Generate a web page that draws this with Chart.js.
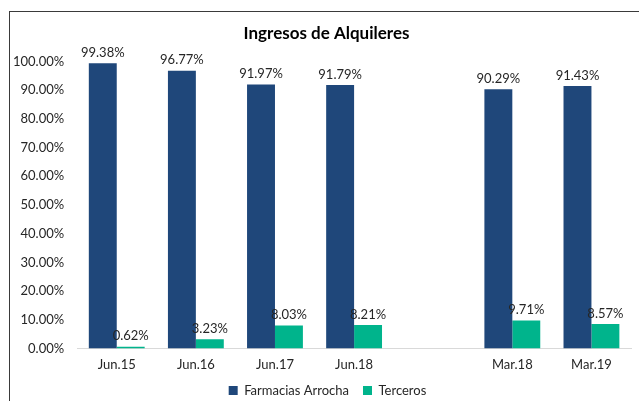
<!DOCTYPE html>
<html lang="es">
<head>
  <meta charset="UTF-8">
  <title>Ingresos de Alquileres</title>
  <script src="https://cdn.jsdelivr.net/npm/chart.js@4.4.1/dist/chart.umd.min.js"></script>
  <style>
    *, *::before, *::after { box-sizing: border-box; margin: 0; padding: 0; }
    html, body { width: 639px; height: 401px; overflow: hidden; background: #fff; }
    .frame {
      position: absolute; left: 9px; top: 11px; width: 700px; height: 500px;
      border-left: 1px solid #3a3a3a; border-top: 1px solid #3a3a3a;
    }
    .wrap { position: absolute; left: 0; top: 0; width: 639px; height: 407px; }
  </style>
</head>
<body>
  <div class="frame"></div>
  <div class="wrap"><canvas id="chart"></canvas></div>
  <script>
    // categories (blank slot between Jun.18 and Mar.18)
    const categories = ['Jun.15', 'Jun.16', 'Jun.17', 'Jun.18', '', 'Mar.18', 'Mar.19'];
    const farmacias = [99.38, 96.77, 91.97, 91.79, null, 90.29, 91.43];
    const terceros = [0.62, 3.23, 8.03, 8.21, null, 9.71, 8.57];
    const yTicks = [0, 10, 20, 30, 40, 50, 60, 70, 80, 90, 100];

    const FONT = "Lato, 'Open Sans', sans-serif";
    Chart.defaults.font.family = FONT;
    Chart.defaults.font.size = 13;
    Chart.defaults.color = '#262626';

    // value labels above each bar
    const barLabels = {
      id: 'barLabels',
      afterDatasetsDraw(chart) {
        const ctx = chart.ctx;
        ctx.save();
        ctx.font = '13px ' + FONT;
        ctx.fillStyle = '#262626';
        ctx.textAlign = 'center';
        ctx.textBaseline = 'bottom';
        chart.data.datasets.forEach((ds, i) => {
          chart.getDatasetMeta(i).data.forEach((bar, j) => {
            const v = ds.data[j];
            if (v == null) return;
            ctx.fillText(v.toFixed(2) + '%', bar.x, bar.y - 4);
          });
        });
        ctx.restore();
      }
    };

    // title and legend in the original sit a bit right of the canvas centre
    const boxShift = {
      id: 'boxShift',
      afterLayout(chart) {
        chart.legend.left += 12;
        chart.legend.right += 12;
        chart.titleBlock.left += 11;
        chart.titleBlock.right += 11;
      }
    };

    new Chart(document.getElementById('chart'), {
      type: 'bar',
      data: {
        labels: categories,
        datasets: [
          { label: 'Farmacias Arrocha', data: farmacias, backgroundColor: '#1F477A' },
          { label: 'Terceros', data: terceros, backgroundColor: '#00B48C' },
        ],
      },
      options: {
        responsive: true, maintainAspectRatio: false, animation: false,
        categoryPercentage: 0.706, barPercentage: 1,
        layout: { padding: { top: 12, left: 0, right: 8, bottom: 0 } },
        plugins: {
          title: {
            display: true, text: 'Ingresos de Alquileres', color: '#000',
            font: { size: 17, weight: 'bold' }, padding: { top: 11, bottom: 18 },
          },
          legend: {
            position: 'bottom',
            labels: { boxWidth: 9, boxHeight: 9, padding: 14, color: '#262626' },
          },
          tooltip: { enabled: false },
        },
        scales: {
          x: {
            grid: { display: false, drawTicks: false },
            border: { display: true, color: '#d9d9d9', width: 1 },
            ticks: { padding: 9 },
            afterFit: s => { s.height = 21.5; },
          },
          y: {
            min: 0, max: 100,
            afterBuildTicks: s => { s.ticks = yTicks.map(v => ({ value: v })); },
            grid: { display: false, drawTicks: false },
            border: { display: false },
            ticks: { padding: 13, callback: v => v.toFixed(2) + '%' },
          },
        },
      },
      plugins: [barLabels, boxShift],
    });
  </script>
</body>
</html>
